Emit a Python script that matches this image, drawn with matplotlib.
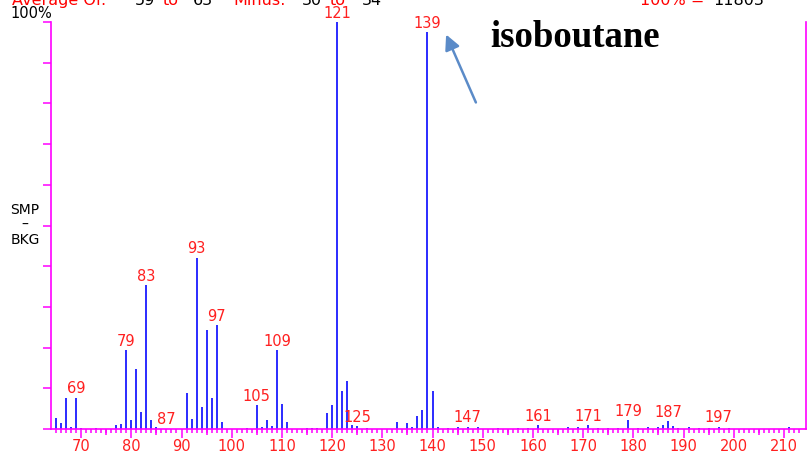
import matplotlib
matplotlib.use('Agg')
import matplotlib.pyplot as plt
import numpy as np

# spectrum (m/z, relative intensity %)
mz = [65, 66, 67, 68, 69, 70, 73, 77, 78, 79, 80, 81, 82, 83, 84, 85, 87,
      91, 92, 93, 94, 95, 96, 97, 98, 103, 105, 106, 107, 108, 109, 110, 111,
      115, 116, 117, 119, 120, 121, 122, 123, 124, 125, 127, 133, 135, 136,
      137, 138, 139, 140, 141, 143, 145, 147, 149, 153, 157, 159, 161, 167,
      169, 171, 173, 175, 177, 179, 181, 183, 185, 186, 187, 188, 189, 191,
      193, 195, 197, 199, 211]
intensity = [2.7, 1.4, 7.5, 0.6, 7.7, 0.3, 0.3, 0.9, 1.2, 19.4, 2.2, 14.7, 4.1, 35.3, 2.2, 0.4, 0.1,
             8.8, 2.4, 42.1, 5.4, 24.4, 7.7, 25.6, 1.6, 0.3, 5.9, 0.6, 2.2, 0.8, 19.4, 6.1, 1.6,
             0.3, 0.3, 0.3, 4.0, 6.0, 100.0, 9.3, 11.8, 1.1, 0.8, 0.3, 1.6, 1.5, 0.6,
             3.2, 4.7, 97.5, 9.3, 0.6, 0.3, 0.6, 0.6, 0.6, 0.3, 0.3, 0.3, 0.9, 0.4,
             0.4, 0.9, 0.3, 0.3, 0.3, 2.1, 0.3, 0.4, 0.4, 0.9, 1.9, 0.7, 0.3, 0.4,
             0.3, 0.3, 0.6, 0.3, 0.6]
labelled = [69, 79, 83, 87, 93, 97, 105, 109, 121, 125, 139, 147, 161, 171, 179, 187, 197]

major_ticks = np.arange(70, 211, 10)
mid_ticks = np.arange(75, 211, 10)

header_left = [("Average Of:", 'red', 12), ("59", 'black', 135), ("to", 'red', 163),
               ("63", 'black', 193), ("Minus:", 'red', 233), ("30", 'black', 302),
               ("to", 'red', 330), ("34", 'black', 362)]
header_right = [("100% =", 'red', 640), ("11803", 'black', 713)]

W, H = 809, 454
MAG = '#ff00ff'
RED = '#ff2020'

fig = plt.figure(figsize=(W / 100, H / 100), dpi=100)
ax = fig.add_axes([51 / W, 25 / H, 755 / W, 407 / H])

ax.vlines(mz, 0, intensity, color='#1a1aff', lw=1.3)

for m in labelled:
    y = intensity[mz.index(m)]
    ax.annotate(str(m), (m, y), xytext=(0, 3), textcoords='offset points',
                ha='center', va='baseline', color=RED, fontsize=10.5)

ax.set_xlim(64.0, 214.4)
ax.set_ylim(0, 100)

for s in ['left', 'right', 'bottom']:
    ax.spines[s].set_color(MAG)
    ax.spines[s].set_linewidth(1.2)
ax.spines['top'].set_visible(False)

ax.set_xticks(major_ticks)
ax.set_xticks(np.arange(65, 214), minor=True)
ax.tick_params(axis='x', which='major', length=6.5, width=1.1, color=MAG,
               labelcolor=RED, labelsize=10.5, pad=1)
ax.tick_params(axis='x', which='minor', length=3, width=1.1, color=MAG)
ax.set_yticks(np.arange(0, 101, 10))
ax.tick_params(axis='y', which='major', length=6, width=1.1, color=MAG,
               labelleft=False)

sec = ax.secondary_xaxis('bottom')
sec.spines['bottom'].set_visible(False)
sec.set_xticks(mid_ticks)
sec.tick_params(length=4.5, width=1.1, color=MAG, labelbottom=False)

# header and labels
for txt, col, x in header_left + header_right:
    fig.text(x / W, 1 - 5 / H, txt, color=col, fontsize=11.5, va='baseline', ha='left')
fig.text(10 / W, 1 - 13 / H, "100%", color='black', fontsize=10.5, va='center', ha='left')
fig.text(25 / W, 1 - 225 / H, "SMP\n–\nBKG", color='black', fontsize=10,
         va='center', ha='center', linespacing=1.05)

ax.annotate('', xy=(445, H - 32), xycoords='figure pixels',
            xytext=(477, H - 105), textcoords='figure pixels',
            arrowprops=dict(arrowstyle='-|>,head_length=0.9,head_width=0.45',
                            color='#5b8bc8', lw=1.8))
fig.text(490 / W, 1 - 46.7 / H, "isoboutane", family='Liberation Serif',
         weight='bold', fontsize=26.5, va='baseline', ha='left', color='black')

fig.savefig('out.png', dpi=100)
